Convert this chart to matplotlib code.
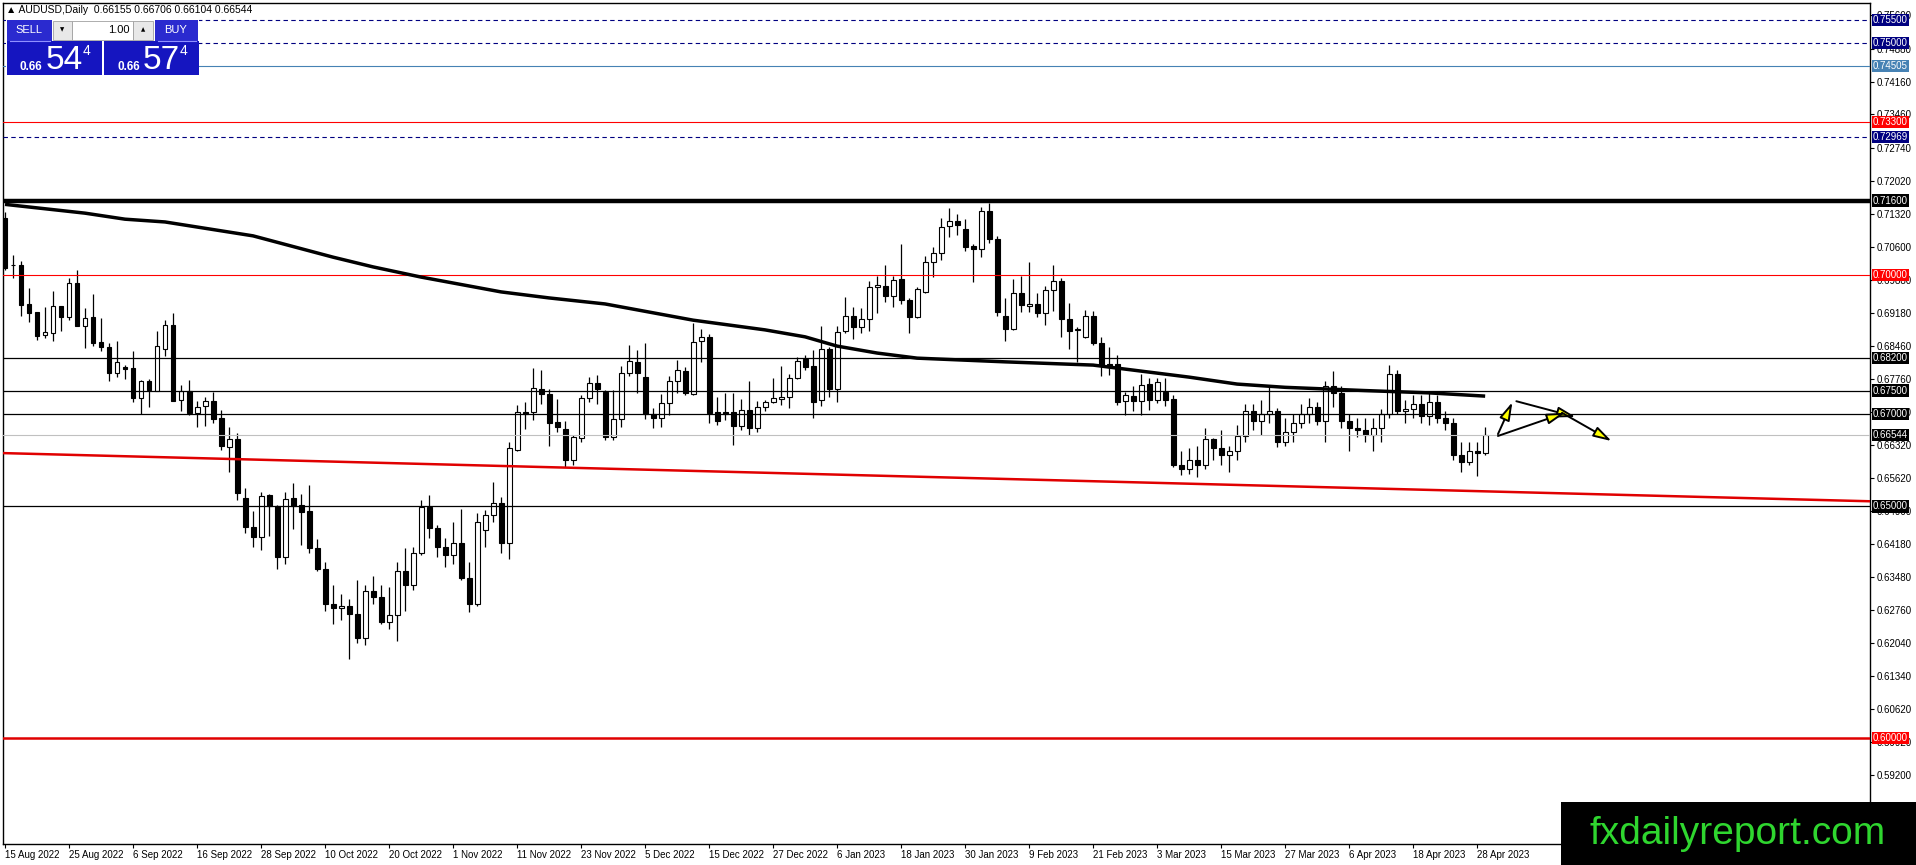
import matplotlib
matplotlib.use('Agg')
import matplotlib.pyplot as plt
from matplotlib.patches import Rectangle, FancyArrowPatch
import pandas as pd

plt.rcParams['font.family'] = ['Liberation Sans', 'DejaVu Sans']

W, H = 1916, 865

# ---- data ----
dates = pd.bdate_range('2022-08-15', '2023-05-01')

opens = [0.7123, 0.7022, 0.7021, 0.6937, 0.6920, 0.6870, 0.6874, 0.6933, 0.6909, 0.6982,
         0.6889, 0.6909, 0.6855, 0.6844, 0.6788, 0.6801, 0.6799, 0.6734, 0.6771, 0.6749,
         0.6840, 0.6892, 0.6730, 0.6749, 0.6702, 0.6717, 0.6727, 0.6691, 0.6628, 0.6645,
         0.6518, 0.6455, 0.6434, 0.6525, 0.6501, 0.6390, 0.6518, 0.6503, 0.6490, 0.6410,
         0.6365, 0.6290, 0.6280, 0.6285, 0.6268, 0.6215, 0.6318, 0.6305, 0.6250, 0.6265,
         0.6360, 0.6330, 0.6400, 0.6499, 0.6453, 0.6412, 0.6395, 0.6420, 0.6345, 0.6290,
         0.6449, 0.6481, 0.6507, 0.6420, 0.6622, 0.6704, 0.6704, 0.6753, 0.6742, 0.6682,
         0.6667, 0.6600, 0.6648, 0.6734, 0.6766, 0.6747, 0.6650, 0.6688, 0.6788, 0.6812,
         0.6779, 0.6699, 0.6691, 0.6723, 0.6771, 0.6792, 0.6743, 0.6857, 0.6866, 0.6704,
         0.6704, 0.6704, 0.6674, 0.6708, 0.6669, 0.6714, 0.6725, 0.6732, 0.6736, 0.6777,
         0.6818, 0.6803, 0.6730, 0.6840, 0.6753, 0.6879, 0.6911, 0.6887, 0.6905, 0.6974,
         0.6976, 0.6954, 0.6991, 0.6946, 0.6909, 0.6963, 0.7028, 0.7047, 0.7105, 0.7116,
         0.7099, 0.7062, 0.7055, 0.7138, 0.7077, 0.6911, 0.6883, 0.6961, 0.6933, 0.6937,
         0.6917, 0.6967, 0.6986, 0.6905, 0.6880, 0.6866, 0.6911, 0.6853, 0.6807, 0.6807,
         0.6727, 0.6738, 0.6727, 0.6764, 0.6730, 0.6747, 0.6732, 0.6590, 0.6580, 0.6600,
         0.6590, 0.6645, 0.6625, 0.6610, 0.6620, 0.6651, 0.6705, 0.6685, 0.6700, 0.6705,
         0.6640, 0.6660, 0.6680, 0.6700, 0.6715, 0.6685, 0.6760, 0.6745, 0.6685, 0.6670,
         0.6665, 0.6655, 0.6670, 0.6700, 0.6785, 0.6705, 0.6710, 0.6720, 0.6695, 0.6725,
         0.6690, 0.6680, 0.6610, 0.6595, 0.6620, 0.66155]

highs = [0.7136, 0.7043, 0.7030, 0.6971, 0.6920, 0.6930, 0.6965, 0.6933, 0.6993, 0.7010,
         0.6928, 0.6958, 0.6907, 0.6853, 0.6857, 0.6805, 0.6835, 0.6773, 0.6775, 0.6879,
         0.6902, 0.6917, 0.6762, 0.6773, 0.6727, 0.6736, 0.6747, 0.6708, 0.6671, 0.6658,
         0.6540, 0.6490, 0.6530, 0.6527, 0.6503, 0.6530, 0.6550, 0.6526, 0.6546, 0.6430,
         0.6380, 0.6330, 0.6310, 0.6300, 0.6340, 0.6330, 0.6350, 0.6330, 0.6325, 0.6380,
         0.6410, 0.6412, 0.6514, 0.6525, 0.6460, 0.6432, 0.6466, 0.6494, 0.6380, 0.6486,
         0.6492, 0.6553, 0.6520, 0.6640, 0.6719, 0.6726, 0.6799, 0.6794, 0.6753, 0.6732,
         0.6685, 0.6653, 0.6740, 0.6780, 0.6783, 0.6751, 0.6751, 0.6803, 0.6848, 0.6838,
         0.6853, 0.6713, 0.6743, 0.6781, 0.6816, 0.6801, 0.6896, 0.6883, 0.6872, 0.6736,
         0.6745, 0.6745, 0.6732, 0.6771, 0.6727, 0.6730, 0.6777, 0.6803, 0.6786, 0.6823,
         0.6827, 0.6838, 0.6889, 0.6844, 0.6889, 0.6952, 0.6930, 0.6928, 0.6986, 0.6997,
         0.7021, 0.6997, 0.7066, 0.6950, 0.6974, 0.7040, 0.7060, 0.7123, 0.7144, 0.7131,
         0.7120, 0.7066, 0.7146, 0.7155, 0.7084, 0.6950, 0.6991, 0.6997, 0.7028, 0.6961,
         0.6976, 0.7022, 0.6993, 0.6939, 0.6887, 0.6924, 0.6922, 0.6866, 0.6844, 0.6827,
         0.6747, 0.6760, 0.6786, 0.6777, 0.6777, 0.6777, 0.6740, 0.6620, 0.6625, 0.6630,
         0.6669, 0.6648, 0.6665, 0.6630, 0.6675, 0.6720, 0.6720, 0.6730, 0.6758, 0.6712,
         0.6690, 0.6700, 0.6720, 0.6735, 0.6725, 0.6770, 0.6793, 0.6760, 0.6700, 0.6690,
         0.6690, 0.6690, 0.6710, 0.6806, 0.6795, 0.6730, 0.6740, 0.6740, 0.6750, 0.6740,
         0.6705, 0.6690, 0.6640, 0.6640, 0.6640, 0.66706]

lows = [0.7010, 0.6993, 0.6911, 0.6898, 0.6859, 0.6863, 0.6857, 0.6879, 0.6902, 0.6889,
        0.6842, 0.6846, 0.6835, 0.6771, 0.6779, 0.6775, 0.6725, 0.6699, 0.6714, 0.6749,
        0.6825, 0.6727, 0.6706, 0.6697, 0.6671, 0.6673, 0.6680, 0.6622, 0.6574, 0.6514,
        0.6443, 0.6412, 0.6406, 0.6437, 0.6365, 0.6375, 0.6451, 0.6417, 0.6400, 0.6360,
        0.6275, 0.6245, 0.6255, 0.6170, 0.6205, 0.6200, 0.6290, 0.6245, 0.6235, 0.6210,
        0.6275, 0.6320, 0.6395, 0.6432, 0.6390, 0.6370, 0.6375, 0.6340, 0.6272, 0.6285,
        0.6412, 0.6466, 0.6400, 0.6386, 0.6620, 0.6666, 0.6686, 0.6721, 0.6631, 0.6660,
        0.6585, 0.6590, 0.6638, 0.6725, 0.6721, 0.6643, 0.6643, 0.6671, 0.6781, 0.6745,
        0.6688, 0.6670, 0.6671, 0.6698, 0.6745, 0.6740, 0.6740, 0.6812, 0.6680, 0.6675,
        0.6686, 0.6632, 0.6665, 0.6655, 0.6660, 0.6705, 0.6723, 0.6719, 0.6712, 0.6775,
        0.6794, 0.6690, 0.6717, 0.6736, 0.6725, 0.6874, 0.6861, 0.6874, 0.6879, 0.6917,
        0.6941, 0.6930, 0.6937, 0.6874, 0.6907, 0.6961, 0.6995, 0.7032, 0.7082, 0.7086,
        0.7051, 0.6984, 0.7038, 0.7069, 0.6912, 0.6857, 0.6881, 0.6920, 0.6920, 0.6909,
        0.6892, 0.6922, 0.6866, 0.6840, 0.6812, 0.6863, 0.6848, 0.6781, 0.6784, 0.6719,
        0.6697, 0.6706, 0.6697, 0.6708, 0.6723, 0.6717, 0.6585, 0.6568, 0.6570, 0.6564,
        0.6580, 0.6600, 0.6590, 0.6575, 0.6600, 0.6640, 0.6665, 0.6655, 0.6680, 0.6628,
        0.6630, 0.6640, 0.6670, 0.6680, 0.6675, 0.6640, 0.6715, 0.6670, 0.6620, 0.6650,
        0.6640, 0.6620, 0.6640, 0.6690, 0.6700, 0.6680, 0.6690, 0.6680, 0.6675, 0.6680,
        0.6665, 0.6600, 0.6575, 0.6590, 0.6565, 0.66104]

closes = [0.7015, 0.7020, 0.6935, 0.6917, 0.6868, 0.6876, 0.6933, 0.6909, 0.6982, 0.6889,
          0.6907, 0.6853, 0.6844, 0.6788, 0.6812, 0.6797, 0.6734, 0.6771, 0.6751, 0.6846,
          0.6892, 0.6727, 0.6749, 0.6702, 0.6714, 0.6727, 0.6689, 0.6630, 0.6645, 0.6529,
          0.6455, 0.6434, 0.6522, 0.6501, 0.6390, 0.6516, 0.6501, 0.6488, 0.6410, 0.6365,
          0.6290, 0.6280, 0.6285, 0.6268, 0.6215, 0.6318, 0.6305, 0.6250, 0.6265, 0.6360,
          0.6330, 0.6400, 0.6499, 0.6453, 0.6412, 0.6395, 0.6420, 0.6345, 0.6290, 0.6466,
          0.6481, 0.6507, 0.6420, 0.6625, 0.6704, 0.6700, 0.6756, 0.6742, 0.6680, 0.6671,
          0.6600, 0.6650, 0.6734, 0.6766, 0.6753, 0.6650, 0.6688, 0.6788, 0.6814, 0.6788,
          0.6699, 0.6691, 0.6723, 0.6771, 0.6794, 0.6745, 0.6855, 0.6866, 0.6702, 0.6685,
          0.6699, 0.6674, 0.6708, 0.6669, 0.6714, 0.6725, 0.6734, 0.6736, 0.6777, 0.6814,
          0.6801, 0.6725, 0.6840, 0.6753, 0.6877, 0.6911, 0.6887, 0.6905, 0.6974, 0.6978,
          0.6954, 0.6989, 0.6946, 0.6909, 0.6969, 0.7028, 0.7047, 0.7103, 0.7116, 0.7107,
          0.7060, 0.7055, 0.7138, 0.7077, 0.6920, 0.6883, 0.6961, 0.6935, 0.6937, 0.6917,
          0.6967, 0.6986, 0.6905, 0.6879, 0.6882, 0.6911, 0.6853, 0.6805, 0.6801, 0.6725,
          0.6740, 0.6727, 0.6762, 0.6730, 0.6768, 0.6730, 0.6590, 0.6580, 0.6600, 0.6590,
          0.6645, 0.6625, 0.6610, 0.6620, 0.6651, 0.6705, 0.6685, 0.6700, 0.6705, 0.6640,
          0.6660, 0.6680, 0.6700, 0.6715, 0.6685, 0.6760, 0.6745, 0.6685, 0.6670, 0.6665,
          0.6655, 0.6670, 0.6700, 0.6785, 0.6705, 0.6710, 0.6720, 0.6695, 0.6725, 0.6690,
          0.6680, 0.6610, 0.6595, 0.6620, 0.6615, 0.66544]

# moving average (thick black curve), read at a few bars
ma_idx = [0, 10, 15, 20, 31, 41, 46, 52, 62, 68, 75, 86, 95, 100, 104, 109, 114, 125, 136, 148, 154, 160, 170, 178, 185]
ma_val = [0.7152, 0.7133, 0.7120, 0.7114, 0.7084, 0.7038, 0.7017, 0.6995, 0.6963, 0.6950, 0.6937, 0.6902,
          0.6881, 0.6866, 0.6846, 0.6831, 0.6820, 0.6812, 0.6805, 0.6779, 0.6764, 0.6757, 0.6750, 0.6745, 0.6738]

# red sloping trend line
trend_idx = [-0.25, 233.1]
trend_val = [0.6615, 0.6511]

# horizontal levels: price, colour, width, style
levels = [0.75500, 0.75000, 0.74505, 0.73300, 0.72969, 0.71600, 0.70000,
          0.68200, 0.67500, 0.67000, 0.66544, 0.65000, 0.60000]
level_colors = ['#000080', '#000080', '#4682B4', '#FF0000', '#000080', '#000000', '#FF0000',
                '#000000', '#000000', '#000000', '#C0C0C0', '#000000', '#E00000']
level_box = ['#000080', '#000080', '#4682B4', '#FF0000', '#000080', '#000000', '#FF0000',
             '#000000', '#000000', '#000000', '#000000', '#000000', '#FF0000']
level_lw = [0.8, 0.8, 0.8, 0.8, 0.8, 3.2, 0.8, 0.9, 0.9, 0.9, 0.8, 0.9, 1.8]
level_ls = ['--', '--', '-', '-', '--', '-', '-', '-', '-', '-', '-', '-', '-']

y_ticks = [0.75600, 0.74880, 0.74160, 0.73460, 0.72740, 0.72020, 0.71320, 0.70600, 0.69880,
           0.69180, 0.68460, 0.67760, 0.67040, 0.66320, 0.65620, 0.64900, 0.64180, 0.63480,
           0.62760, 0.62040, 0.61340, 0.60620, 0.59920, 0.59200, 0.58480]

# projected path arrows (bar index, price)
arrows = [((186.6, 0.6656), (188.4, 0.6725)),
          ((188.9, 0.6727), (196.3, 0.6693)),
          ((186.6, 0.6652), (195.0, 0.6702)),
          ((194.6, 0.6702), (200.8, 0.6641))]

# ---- figure ----
fig = plt.figure(figsize=(W / 100, H / 100), dpi=100)
ax = fig.add_axes([3 / W, 1 - 844 / H, (1870 - 3) / W, (844 - 3) / H])
ax.set_xlim(-0.25, 233.1)
ax.set_ylim(0.57711, 0.75867)

x = list(range(len(opens)))

# candles
ax.vlines(x, lows, highs, color='black', lw=0.9, zorder=2)
for i in x:
    o, c = opens[i], closes[i]
    bottom = min(o, c)
    height = max(abs(c - o), 0.00005)
    face = 'white' if c > o else 'black'
    ax.bar(i, height, bottom=bottom, width=0.62, color=face, edgecolor='black',
           linewidth=0.8, zorder=3)

# levels
for p, col, lw, ls in zip(levels, level_colors, level_lw, level_ls):
    if ls == '--':
        ax.axhline(p, color=col, lw=lw, ls=(0, (4, 3)), zorder=4)
    else:
        ax.axhline(p, color=col, lw=lw, zorder=4)

ax.plot(ma_idx, ma_val, color='black', lw=2.5, zorder=5, solid_capstyle='butt')
ax.plot(trend_idx, trend_val, color='#E00000', lw=1.8, zorder=5)

for a, b in arrows:
    ax.add_patch(FancyArrowPatch(a, b, arrowstyle='-|>,head_length=1.1,head_width=0.32',
                                 mutation_scale=10, fc='#FFFF00', ec='black', lw=1.4,
                                 shrinkA=0, shrinkB=0, zorder=6))

# axes styling
for s in ax.spines.values():
    s.set_linewidth(1.0)
    s.set_color('black')

ax.yaxis.tick_right()
ax.set_yticks(y_ticks)
ax.set_yticklabels([f'{v:.5f}' for v in y_ticks])
ax.tick_params(axis='y', length=3, width=0.8, pad=1.5, labelsize=7)

tick_pos = list(range(0, len(dates), 8))
ax.set_xticks(tick_pos)
ax.set_xticklabels([f"{dates[i].day} {dates[i].strftime('%b %Y')}" for i in tick_pos], ha='left')
ax.tick_params(axis='x', length=3, width=0.8, pad=1.5, labelsize=7)

for p, bc in zip(levels, level_box):
    ax.annotate(f'{p:.5f}', xy=(1, p), xycoords=('axes fraction', 'data'),
                xytext=(2.2, 0), textcoords='offset points', ha='left', va='center',
                color='white', fontsize=7, annotation_clip=False, zorder=10,
                bbox=dict(boxstyle='square,pad=0.12', fc=bc, ec='none'))


def fx(px):
    return px / W


def fy(py):
    return 1 - py / H


# header line
fig.text(fx(6), fy(10), '\u25B2 AUDUSD,Daily  0.66155 0.66706 0.66104 0.66544',
         fontsize=7.5, va='center', ha='left', color='black')

# one-click trading panel
def box(x0, y0, x1, y1, fc, ec='none', lw=0):
    fig.add_artist(Rectangle((fx(x0), fy(y1)), fx(x1) - fx(x0), fy(y0) - fy(y1),
                             transform=fig.transFigure, fc=fc, ec=ec, lw=lw))


box(6, 19, 199, 75, 'white')
box(7, 20, 52, 41, '#2A2ACF')
box(155, 20, 198, 41, '#2A2ACF')
box(53, 21, 72, 40, '#E8E8E8', ec='#A0A0A0', lw=0.6)
box(72, 21, 133, 40, 'white', ec='#A0A0A0', lw=0.6)
box(133, 21, 153, 40, '#E8E8E8', ec='#A0A0A0', lw=0.6)
box(7, 41, 102, 75, '#1515C0')
box(104, 41, 199, 75, '#1515C0')
fig.add_artist(plt.Line2D([fx(10), fx(50)], [fy(41), fy(41)], transform=fig.transFigure,
                          color='#9090FF', lw=0.8))
fig.add_artist(plt.Line2D([fx(158), fx(196)], [fy(41), fy(41)], transform=fig.transFigure,
                          color='#9090FF', lw=0.8))

fig.text(fx(29), fy(30), 'SELL', color='white', fontsize=8, ha='center', va='center')
fig.text(fx(176), fy(30), 'BUY', color='white', fontsize=8, ha='center', va='center')
fig.text(fx(62.5), fy(30), '\u25BC', color='black', fontsize=4, ha='center', va='center',
         family='DejaVu Sans')
fig.text(fx(143), fy(30), '\u25B2', color='black', fontsize=4, ha='center', va='center',
         family='DejaVu Sans')
fig.text(fx(130), fy(30), '1.00', color='black', fontsize=8, ha='right', va='center')

for x0, big in ((12, '54'), (109, '57')):
    fig.text(fx(x0 + 8), fy(70), '0.66', color='white', fontsize=8.5, fontweight='bold',
             ha='left', va='baseline')
    fig.text(fx(x0 + 34), fy(69), big, color='white', fontsize=24, ha='left', va='baseline')
    fig.text(fx(x0 + 71), fy(55), '4', color='white', fontsize=10, ha='left', va='baseline')

# watermark
box(1561, 802, 1916, 865, 'black')
fig.text(fx(1738), fy(834), 'fxdailyreport.com', color='#2FD62F', fontsize=28,
         ha='center', va='center')

fig.savefig('out.png', dpi=100)
